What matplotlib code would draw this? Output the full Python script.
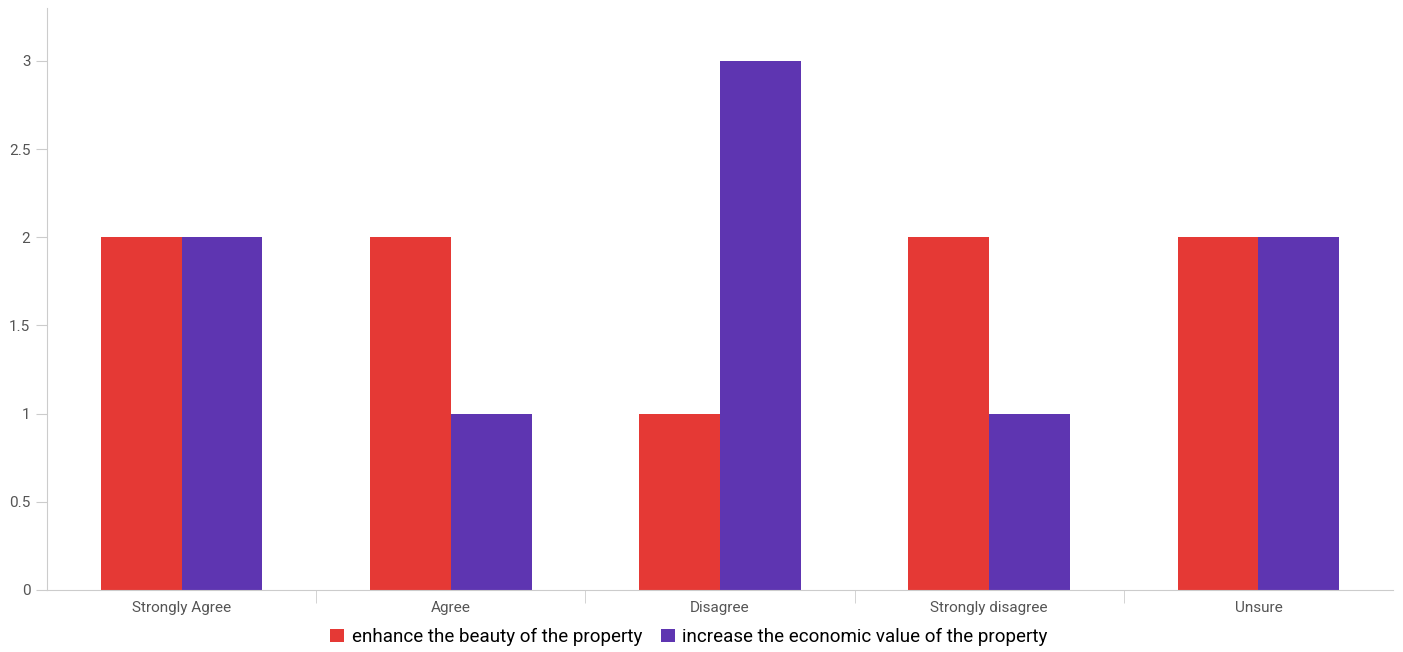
import numpy as np
import matplotlib.pyplot as plt

plt.rcParams['font.family'] = ['Roboto', 'DejaVu Sans']

categories = ["Strongly Agree", "Agree", "Disagree", "Strongly disagree", "Unsure"]
beauty = [2, 2, 1, 2, 2]
economic = [2, 1, 3, 1, 2]
series_names = ["enhance the beauty of the property", "increase the economic value of the property"]

fig = plt.figure(figsize=(14.03, 6.52), dpi=100)
ax = fig.add_axes([0.0335, 0.0951, 0.9594, 0.8926])

x = np.arange(len(categories))
w = 0.3
ax.bar(x - w/2, beauty, w, color="#e53935", label=series_names[0])
ax.bar(x + w/2, economic, w, color="#5e35b1", label=series_names[1])

ax.set_xlim(-0.5, len(categories) - 0.5)
ax.set_ylim(0, 3.3)
ax.set_yticks([0, 0.5, 1, 1.5, 2, 2.5, 3])
ax.set_yticklabels(["0", "0.5", "1", "1.5", "2", "2.5", "3"])
ax.set_xticks(x)
ax.set_xticklabels(categories)
ax.tick_params(axis='x', length=0, pad=8, labelsize=11, labelcolor="#555555")
ax.set_xticks(np.arange(0.5, len(categories) - 1, 1), minor=True)
ax.tick_params(axis='x', which='minor', length=9, color="#cccccc")
ax.tick_params(axis='y', length=8, color="#cccccc", labelsize=11, labelcolor="#555555", pad=4)

for s in ["top", "right"]:
    ax.spines[s].set_visible(False)
for s in ["left", "bottom"]:
    ax.spines[s].set_color("#cccccc")

fig.legend(loc="center", bbox_to_anchor=(0.491, 0.023), ncol=2, frameon=False,
           fontsize=13.5, handlelength=0.75, handleheight=0.75, handletextpad=0.4,
           columnspacing=1.0)

fig.savefig("out.png", dpi=100)
